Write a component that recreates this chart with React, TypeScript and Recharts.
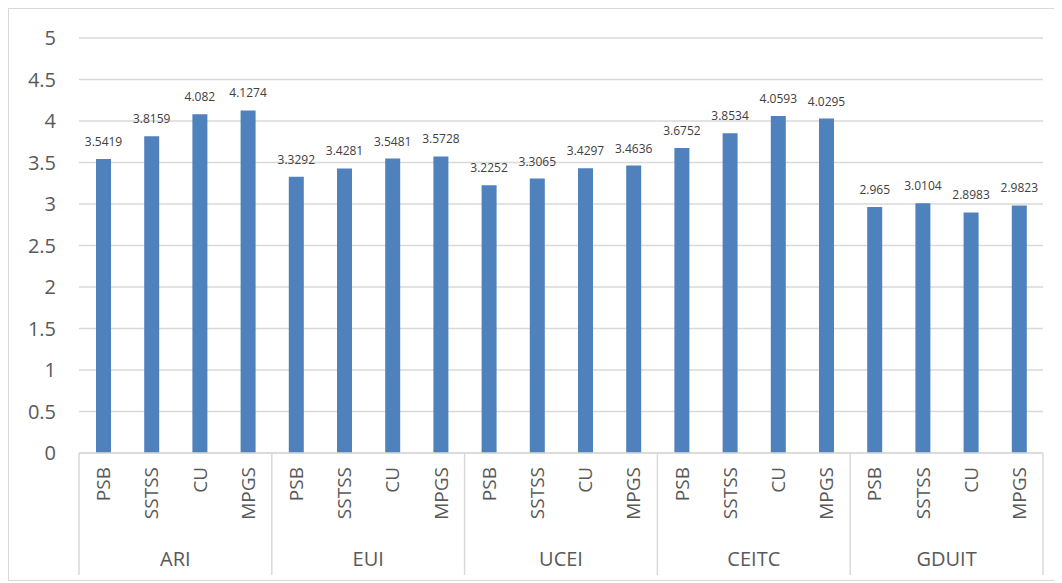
import React from "react";
import { BarChart, Bar, XAxis, YAxis, CartesianGrid, LabelList } from "recharts";

const groups = ["ARI", "EUI", "UCEI", "CEITC", "GDUIT"];
const subs = ["PSB", "SSTSS", "CU", "MPGS"];
const ariValues = [3.5419, 3.8159, 4.082, 4.1274];
const euiValues = [3.3292, 3.4281, 3.5481, 3.5728];
const uceiValues = [3.2252, 3.3065, 3.4297, 3.4636];
const ceitcValues = [3.6752, 3.8534, 4.0593, 4.0295];
const gduitValues = [2.965, 3.0104, 2.8983, 2.9823];
const yTicks = [0, 0.5, 1, 1.5, 2, 2.5, 3, 3.5, 4, 4.5, 5];

const groupValues = [ariValues, euiValues, uceiValues, ceitcValues, gduitValues];
const data = groups.flatMap((g, gi) =>
  subs.map((s, si) => ({ key: `${g}-${s}`, group: g, sub: s, value: groupValues[gi][si] }))
);

const FONT = "'Open Sans', sans-serif";
const TEXT = "#595959";
const LINE = "#d9d9d9";

const CategoryTick = (props: any) => {
  const { x, y, payload, index } = props;
  const half = payload?.offset ?? 24;
  const item = data[index];
  const n = subs.length;
  return (
    <g>
      <text
        x={x}
        y={y + 14}
        transform={`rotate(-90, ${x}, ${y + 14})`}
        textAnchor="end"
        dominantBaseline="central"
        fill={TEXT}
        fontSize={19}
        fontFamily={FONT}
      >
        {item.sub}
      </text>
      {index % n === 0 && (
        <line x1={x - half} x2={x - half} y1={y} y2={y + 122} stroke={LINE} strokeWidth={1.5} />
      )}
      {index === data.length - 1 && (
        <line x1={x + half} x2={x + half} y1={y} y2={y + 122} stroke={LINE} strokeWidth={1.5} />
      )}
      {index % n === 1 && (
        <text
          x={x + half}
          y={y + 105}
          textAnchor="middle"
          dominantBaseline="central"
          fill={TEXT}
          fontSize={20}
          fontFamily={FONT}
        >
          {item.group}
        </text>
      )}
    </g>
  );
};

export default function App() {
  return (
    <div style={{ width: 1050, height: 571, border: `1px solid ${LINE}`, background: "#fff" }}>
      <BarChart
        width={1050}
        height={571}
        data={data}
        margin={{ top: 29, right: 16, bottom: 5, left: 10 }}
        barCategoryGap={0}
      >
        <CartesianGrid vertical={false} stroke={LINE} strokeWidth={1.5} />
        <XAxis
          dataKey="key"
          interval={0}
          height={122}
          tickLine={false}
          tickSize={0}
          tickMargin={0}
          axisLine={{ stroke: LINE, strokeWidth: 1.5 }}
          tick={<CategoryTick />}
        />
        <YAxis
          width={60}
          domain={[0, 5]}
          ticks={yTicks}
          axisLine={false}
          tickLine={false}
          tickMargin={17}
          tick={{ fill: TEXT, fontSize: 20, fontFamily: FONT }}
        />
        <Bar dataKey="value" fill="#4f81bd" barSize={15} isAnimationActive={false}>
          <LabelList
            dataKey="value"
            position="top"
            offset={13}
            fill="#404040"
            fontSize={12}
            fontFamily={FONT}
            formatter={(v: any) => String(v)}
          />
        </Bar>
      </BarChart>
    </div>
  );
}
